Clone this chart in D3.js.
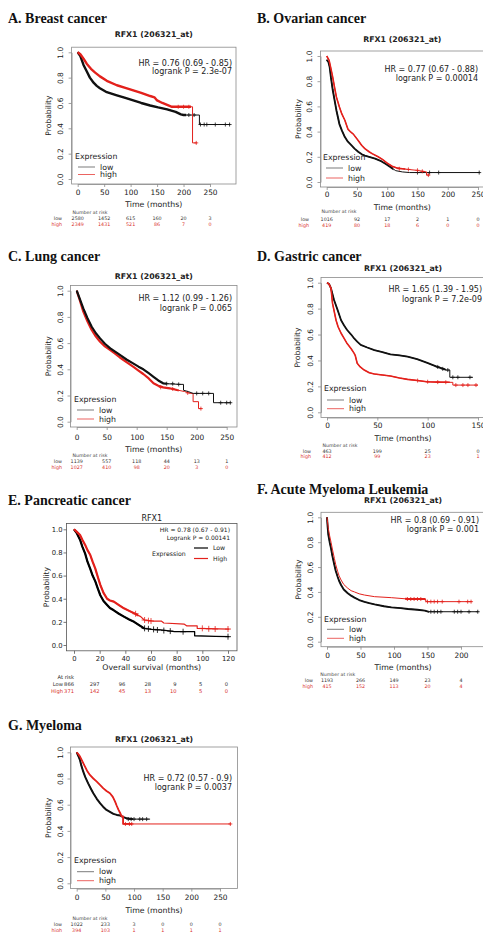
<!DOCTYPE html>
<html>
<head>
<meta charset="utf-8">
<script src="https://cdn.jsdelivr.net/npm/d3@7"></script>
<style>
body { margin: 0; background: #fff; }
text { font-family: "DejaVu Sans", sans-serif; fill: #222; }
.ptitle { font-family: "Liberation Serif", "Times New Roman", serif; font-weight: bold; font-size: 14px; fill: #111; }
</style>
</head>
<body>
<script>
var red = "#e3211c";

// ---- survival curves: [months, probability]
var breastLow = [[0,1],[5,0.97],[11,0.9],[17,0.85],[23,0.8],[30,0.76],[36,0.735],[42,0.716],[55,0.685],[74,0.66],[90,0.64],[105,0.62],[120,0.6],[137,0.58],[152,0.565],[169,0.55],[185,0.53],[195,0.51],[200,0.505],[230,0.505],[230,0.43],[288,0.43]];
var breastHigh = [[0,1],[5,0.985],[11,0.95],[17,0.91],[25,0.87],[33,0.84],[42,0.81],[55,0.775],[74,0.74],[90,0.72],[105,0.7],[120,0.68],[137,0.655],[145,0.645],[150,0.62],[160,0.6],[169,0.585],[178,0.57],[217,0.57],[217,0.285],[225,0.285]];
var breastLowCens = [[210,0.505],[220,0.505],[232,0.43],[239,0.43],[244,0.43],[260,0.43],[279,0.43],[287,0.43]];
var breastHighCens = [[190,0.57],[200,0.57],[210,0.57],[224,0.285]];
var breastLowDense = [0, 205], breastHighDense = [0, 214];

var ovarianLow = [[0,0.97],[3,0.95],[5,0.91],[7,0.83],[10,0.73],[13,0.65],[16,0.57],[21,0.46],[25,0.41],[30,0.357],[35,0.32],[41,0.29],[46,0.265],[52,0.24],[58,0.22],[63,0.21],[70,0.2],[80,0.185],[90,0.165],[97,0.145],[105,0.12],[114,0.09],[125,0.08],[137,0.075],[253,0.075]];
var ovarianHigh = [[0,1],[4,0.965],[7,0.9],[10,0.83],[13,0.75],[16,0.675],[21,0.595],[25,0.54],[30,0.49],[35,0.42],[40,0.395],[44,0.38],[52,0.33],[58,0.29],[63,0.265],[70,0.24],[75,0.225],[85,0.2],[92,0.18],[100,0.15],[108,0.125],[117,0.11],[125,0.105],[148,0.093],[165,0.08],[165,0.055],[170,0.055]];
var ovarianLowCens = [[150,0.075],[170,0.075],[185,0.075],[252,0.075]];
var ovarianHighCens = [[120,0.105],[135,0.1],[150,0.093],[158,0.085],[168,0.055]];
var ovarianLowDense = [0, 110], ovarianHighDense = [0, 130];

var lungLow = [[0,1],[5,0.94],[11,0.865],[18,0.79],[25,0.725],[32,0.675],[39,0.636],[47,0.595],[56,0.56],[64,0.535],[72,0.51],[83,0.475],[94,0.445],[103,0.42],[111,0.4],[120,0.37],[128,0.343],[136,0.315],[144,0.293],[150,0.29],[172,0.285],[178,0.285],[178,0.24],[186,0.23],[194,0.216],[228,0.216],[228,0.145],[257,0.145]];
var lungHigh = [[0,1],[5,0.93],[11,0.84],[18,0.765],[25,0.7],[32,0.65],[39,0.61],[47,0.575],[56,0.547],[64,0.52],[72,0.49],[83,0.455],[94,0.42],[103,0.39],[111,0.364],[120,0.33],[128,0.293],[136,0.275],[144,0.262],[155,0.255],[167,0.242],[180,0.23],[189,0.216],[194,0.216],[194,0.153],[203,0.153],[203,0.1],[208,0.1]];
var lungLowCens = [[150,0.29],[160,0.29],[170,0.285],[200,0.216],[210,0.216],[220,0.216],[240,0.145],[250,0.145],[256,0.145]];
var lungHighCens = [[140,0.262],[160,0.25],[185,0.22],[207,0.1]];
var lungLowDense = [0, 150], lungHighDense = [0, 170];

var gastricLow = [[0,1],[2,0.99],[4,0.956],[7,0.866],[10.5,0.79],[14,0.71],[17,0.67],[20,0.635],[24,0.6],[27,0.57],[30,0.545],[33.5,0.52],[40,0.5],[47,0.48],[55,0.465],[63,0.447],[72,0.44],[80,0.43],[89.5,0.41],[99,0.383],[109,0.352],[119,0.326],[122,0.326],[122,0.27],[145,0.27]];
var gastricHigh = [[0,1],[2,0.99],[4,0.956],[5.5,0.84],[9,0.71],[11,0.66],[14,0.61],[17,0.57],[20,0.53],[24,0.49],[27,0.455],[28,0.44],[30,0.378],[33,0.35],[37,0.326],[42,0.305],[47,0.296],[55,0.288],[63,0.28],[72,0.265],[80,0.254],[90,0.245],[99,0.236],[110,0.233],[125,0.231],[125,0.21],[150,0.21]];
var gastricLowCens = [[110,0.35],[115,0.335],[120,0.326],[125,0.27],[130,0.27],[142,0.27]];
var gastricHighCens = [[90,0.245],[100,0.236],[110,0.233],[118,0.232],[128,0.21],[135,0.21],[140,0.21],[148,0.21]];
var gastricLowDense = [0, 118], gastricHighDense = [0, 122];

var pancLow = [[0,1],[2,0.97],[4.7,0.91],[6.5,0.85],[8.7,0.79],[10.5,0.72],[12.6,0.66],[14.5,0.6],[16.6,0.55],[18.5,0.49],[20.5,0.43],[23,0.38],[25.8,0.346],[28,0.32],[31,0.3],[35,0.27],[38.9,0.245],[43,0.22],[46.8,0.2],[51,0.17],[54.7,0.144],[60,0.135],[67.9,0.13],[78.4,0.115],[94,0.115],[94,0.08],[110,0.075],[121,0.072]];
var pancHigh = [[0,1],[2,0.98],[4.7,0.95],[6.5,0.91],[8.7,0.865],[10.5,0.82],[12.6,0.78],[14.5,0.72],[16.6,0.66],[18.5,0.59],[20.5,0.52],[23,0.45],[25.8,0.4],[28,0.385],[31,0.375],[35,0.345],[38.9,0.317],[43,0.295],[46.8,0.274],[52,0.245],[54.7,0.216],[62,0.207],[68,0.207],[70,0.19],[86,0.18],[88,0.165],[96,0.165],[96,0.144],[121,0.138]];
var pancLowCens = [[55,0.144],[58,0.14],[62,0.135],[65,0.13],[70,0.125],[75,0.12],[85,0.115],[120,0.072]];
var pancHighCens = [[48,0.27],[55,0.216],[58,0.21],[60,0.207],[100,0.144],[105,0.14],[110,0.138],[120,0.138]];
var pancLowDense = [0, 55], pancHighDense = [0, 50];

var amlLow = [[0,1],[1,0.92],[2,0.86],[4,0.8],[6,0.75],[8,0.69],[11,0.617],[13,0.57],[16,0.52],[18,0.49],[21,0.456],[25,0.42],[31,0.39],[36,0.37],[41,0.354],[48,0.335],[56,0.32],[63,0.31],[71,0.3],[85,0.285],[96,0.276],[110,0.27],[121,0.263],[135,0.257],[146,0.25],[151,0.241],[226,0.241]];
var amlHigh = [[0,1],[2,0.91],[4,0.85],[6,0.8],[8,0.745],[11,0.67],[13,0.62],[16,0.563],[18,0.53],[21,0.496],[25,0.46],[31,0.43],[36,0.41],[41,0.4],[48,0.385],[56,0.375],[71,0.362],[96,0.354],[121,0.343],[147,0.343],[148,0.322],[216,0.322]];
var amlLowCens = [[155,0.241],[160,0.241],[165,0.241],[170,0.241],[190,0.241],[195,0.241],[200,0.241],[212,0.241],[225,0.241]];
var amlHighCens = [[120,0.343],[125,0.343],[130,0.343],[135,0.343],[140,0.343],[150,0.322],[155,0.322],[160,0.322],[165,0.322],[172,0.322],[197,0.322],[210,0.322],[215,0.322]];
var amlLowDense = [0, 152], amlHighDense = [118, 147];

var myelLow = [[0,1],[3,0.97],[5.8,0.94],[8,0.9],[11.6,0.85],[15,0.81],[20,0.763],[25,0.72],[29,0.687],[35,0.645],[41,0.61],[46,0.585],[52,0.56],[58,0.545],[64,0.53],[70,0.522],[76,0.517],[82,0.505],[87,0.496],[95,0.49],[128,0.49]];
var myelHigh = [[0,1],[3,0.985],[5.8,0.967],[10,0.93],[14.5,0.89],[18,0.86],[23,0.827],[29,0.8],[35,0.776],[41,0.75],[46.5,0.725],[52,0.705],[58,0.687],[63,0.66],[67,0.623],[70,0.59],[73,0.56],[76,0.535],[78.5,0.51],[81,0.51],[81,0.453],[269,0.453]];
var myelLowCens = [[90,0.49],[95,0.49],[100,0.49],[110,0.49],[115,0.49],[122,0.49]];
var myelHighCens = [[85,0.453],[92,0.453],[96,0.453],[268,0.453]];
var myelLowDense = [0, 98], myelHighDense = [0, 97];

// ---- numbers at risk
var breastRiskLow = [2580,1452,615,160,20,3], breastRiskHigh = [2349,1431,521,86,7,0];
var ovarianRiskLow = [1016,92,17,2,1,0], ovarianRiskHigh = [419,80,18,6,0,0];
var lungRiskLow = [1139,557,118,44,13,1], lungRiskHigh = [1027,410,98,20,3,0];
var gastricRiskLow = [463,199,25,0], gastricRiskHigh = [412,99,23,1];
var pancRiskLow = [866,297,96,28,9,5,0], pancRiskHigh = [371,142,45,13,10,5,0];
var amlRiskLow = [1193,266,149,23,4], amlRiskHigh = [415,152,113,20,4];
var myelRiskLow = [1022,233,3,0,0,0], myelRiskHigh = [394,103,1,1,1,1];

// ---- ticks and labels
var ticks250 = [0,50,100,150,200,250];
var ticks200 = [0,50,100,150,200];
var ticks150 = [0,50,100,150];
var ticks120 = [0,20,40,60,80,100,120];
var probTicks = [0,0.2,0.4,0.6,0.8,1];

var breastStats = ["HR = 0.76 (0.69 - 0.85)", "logrank P = 2.3e-07"];
var ovarianStats = ["HR = 0.77 (0.67 - 0.88)", "logrank P = 0.00014"];
var lungStats = ["HR = 1.12 (0.99 - 1.26)", "logrank P = 0.065"];
var gastricStats = ["HR = 1.65 (1.39 - 1.95)", "logrank P = 7.2e-09"];
var pancStats = ["HR = 0.78 (0.67 - 0.91)", "Logrank P = 0.00141"];
var amlStats = ["HR = 0.8 (0.69 - 0.91)", "logrank P = 0.001"];
var myelStats = ["HR = 0.72 (0.57 - 0.9)", "logrank P = 0.0037"];

var svg = d3.select("body").append("svg").attr("width", 483).attr("height", 932);
var clipCount = 0;

function drawPanel(p) {
    var g = svg.append("g");
    var b = p.box; // left, right, top, bottom
    var x = d3.scaleLinear().domain([0, p.xTicks[p.xTicks.length - 1]]).range([p.x0, p.x1]);
    var y = d3.scaleLinear().domain([0, 1]).range([p.y0, p.y1]);
    var mpl = !!p.mpl;
    var cx = (b[0] + b[1]) / 2, cy = (b[2] + b[3]) / 2;
    var fs = mpl ? "6.2px" : "7.8px";

    g.append("text").attr("class", "ptitle").attr("x", p.tx).attr("y", p.ty).text(p.title);
    g.append("text").attr("x", cx).attr("y", p.subY).attr("dy", "0.35em").attr("text-anchor", "middle")
        .style("font-size", mpl ? "8px" : "7.8px").style("font-weight", mpl ? "normal" : "bold").text(p.sub);

    g.append("rect").attr("x", b[0]).attr("y", b[2]).attr("width", b[1] - b[0]).attr("height", b[3] - b[2])
        .attr("fill", "none").attr("stroke", mpl ? "#555" : "#8a8a8a").attr("stroke-width", 0.8);

    var xa = g.append("g").attr("transform", "translate(0," + b[3] + ")")
        .call(d3.axisBottom(x).tickValues(p.xTicks).tickSize(3).tickSizeOuter(0));
    xa.selectAll("text").attr("y", p.xLabY - b[3]).attr("dy", "0.35em").attr("fill", "#333")
        .style("font-size", mpl ? "6.8px" : "7.4px");

    var ya = g.append("g").attr("transform", "translate(" + b[0] + ",0)")
        .call(d3.axisLeft(y).tickValues(probTicks).tickFormat(d3.format(".1f")).tickSize(3).tickSizeOuter(0));
    if (mpl) {
        ya.selectAll("text").attr("x", p.yLabX - b[0]).attr("dy", "0.35em").attr("text-anchor", "end");
        xa.select(".domain").remove();
        ya.select(".domain").remove();
    } else {
        ya.selectAll("text").attr("transform", "rotate(-90)").attr("x", 0).attr("y", p.yLabX - b[0])
            .attr("dy", "0.35em").attr("text-anchor", "middle");
    }
    ya.selectAll("text").attr("fill", "#333").style("font-size", mpl ? "6.8px" : "7.4px");
    g.selectAll(".domain, .tick line").attr("stroke", mpl ? "#555" : "#8a8a8a").attr("stroke-width", 0.8);

    g.append("text").attr("transform", "translate(" + p.probX + "," + cy + ") rotate(-90)")
        .attr("dy", "0.35em").attr("text-anchor", "middle").style("font-size", "7.6px").text("Probability");
    g.append("text").attr("x", p.timeX || cx).attr("y", p.timeY).attr("dy", "0.35em").attr("text-anchor", "middle")
        .style("font-size", "7.8px").text(p.xTitle || "Time (months)");

    var line = d3.line().x(function (d) { return x(d[0]); }).y(function (d) { return y(d[1]); });
    p.series.forEach(function (s) {
        g.append("path").datum(s.data).attr("d", line).attr("fill", "none")
            .attr("stroke", s.color).attr("stroke-width", s.w).attr("stroke-linejoin", "round");
        // stretch of the curve crowded with censor ticks looks thicker
        var id = "dense" + (clipCount++);
        g.append("clipPath").attr("id", id).append("rect")
            .attr("x", x(s.dense[0]) - 1).attr("width", x(s.dense[1]) - x(s.dense[0]) + 1)
            .attr("y", b[2] - 6).attr("height", b[3] - b[2] + 12);
        g.append("path").datum(s.data).attr("d", line).attr("fill", "none").attr("clip-path", "url(#" + id + ")")
            .attr("stroke", s.color).attr("stroke-width", s.dw).attr("stroke-linejoin", "round");
        var r = mpl ? 3 : 2;
        g.selectAll(null).data(s.cens).enter().append("path")
            .attr("d", function (d) {
                var px = x(d[0]), py = y(d[1]);
                return "M" + (px - r) + "," + py + "H" + (px + r) + "M" + px + "," + (py - r) + "V" + (py + r);
            })
            .attr("stroke", s.color).attr("stroke-width", 0.8);
    });

    p.stats.forEach(function (t, i) {
        g.append("text").attr("x", p.hrX).attr("y", p.hrY[i]).attr("dy", "0.35em").attr("text-anchor", "end")
            .style("font-size", mpl ? "6px" : "8px").text(t);
    });

    var risk = [p.riskLow, p.riskHigh];
    var riskY = [p.lowY, p.highY];
    var riskCol = ["#333", "#d9302c"];
    if (mpl) {
        // lifelines style legend and at-risk table
        g.append("text").attr("x", p.legX).attr("y", p.legY).attr("dy", "0.35em").style("font-size", fs).text("Expression");
        ["Low", "High"].forEach(function (lab, i) {
            var ly = i ? p.legHighY : p.legLowY;
            g.append("line").attr("x1", p.legX + 42).attr("x2", p.legX + 56).attr("y1", ly).attr("y2", ly)
                .attr("stroke", i ? red : "#000").attr("stroke-width", 1.2);
            g.append("text").attr("x", p.legX + 61).attr("y", ly).attr("dy", "0.35em").style("font-size", fs).text(lab);
        });
        g.append("text").attr("x", x(0)).attr("y", p.narY).attr("dy", "0.35em").attr("text-anchor", "end")
            .style("font-size", "5.2px").text("At risk");
        ["Low", "High"].forEach(function (lab, i) {
            g.append("text").attr("x", p.labX).attr("y", riskY[i]).attr("dy", "0.35em").attr("text-anchor", "end")
                .style("fill", riskCol[i]).style("font-size", "5.2px").text(lab);
            g.selectAll(null).data(risk[i]).enter().append("text")
                .attr("x", function (d, j) { return x(p.xTicks[j]); }).attr("y", riskY[i]).attr("dy", "0.35em")
                .attr("text-anchor", "end").style("fill", riskCol[i]).style("font-size", "5.2px")
                .text(function (d) { return d; });
        });
    } else {
        g.append("text").attr("x", p.legX).attr("y", p.legY).attr("dy", "0.35em").style("font-size", fs).text("Expression");
        ["low", "high"].forEach(function (lab, i) {
            var ly = i ? p.legHighY : p.legLowY;
            g.append("line").attr("x1", p.legX + 3).attr("x2", p.legX + 20).attr("y1", ly).attr("y2", ly)
                .attr("stroke", i ? red : "#444").attr("stroke-width", 0.7);
            g.append("text").attr("x", p.legX + 25).attr("y", ly).attr("dy", "0.35em").style("font-size", fs).text(lab);
        });
        g.append("text").attr("x", p.narX).attr("y", p.narY).attr("dy", "0.35em").attr("text-anchor", "middle")
            .style("font-size", "4.7px").style("fill", "#444").text("Number at risk");
        ["low", "high"].forEach(function (lab, i) {
            g.append("text").attr("x", p.labX).attr("y", riskY[i]).attr("dy", "0.35em").attr("text-anchor", "end")
                .style("fill", riskCol[i]).style("font-size", "4.8px").text(lab);
            g.selectAll(null).data(risk[i]).enter().append("text")
                .attr("x", function (d, j) { return x(p.xTicks[j]); }).attr("y", riskY[i]).attr("dy", "0.35em")
                .attr("text-anchor", "middle").style("fill", riskCol[i]).style("font-size", "4.8px")
                .text(function (d) { return d; });
        });
    }
}

drawPanel({
    title: "A. Breast cancer", tx: 8, ty: 22.5, sub: "RFX1 (206321_at)", subY: 34,
    box: [71.6, 236, 47.2, 184], x0: 77.7, x1: 210, y0: 179, y1: 52.3, xTicks: ticks250,
    stats: breastStats, hrX: 232, hrY: [63, 71.5], probX: 48, yLabX: 60, xLabY: 192.7, timeY: 204,
    series: [
        { data: breastLow, cens: breastLowCens, dense: breastLowDense, color: "#111", w: 1, dw: 2.4 },
        { data: breastHigh, cens: breastHighCens, dense: breastHighDense, color: red, w: 1, dw: 2.4 }
    ],
    riskLow: breastRiskLow, riskHigh: breastRiskHigh, narX: 90, narY: 212, lowY: 218, highY: 224, labX: 62,
    legX: 75, legY: 156, legLowY: 167, legHighY: 174.5
});

drawPanel({
    title: "B. Ovarian cancer", tx: 257, ty: 22.5, sub: "RFX1 (206321_at)", subY: 39,
    box: [320.5, 484, 51, 187], x0: 326.7, x1: 478, y0: 182, y1: 56, xTicks: ticks250,
    stats: ovarianStats, hrX: 478, hrY: [69, 78], probX: 298, yLabX: 309, xLabY: 194, timeY: 207,
    series: [
        { data: ovarianLow, cens: ovarianLowCens, dense: ovarianLowDense, color: "#111", w: 1, dw: 1.9 },
        { data: ovarianHigh, cens: ovarianHighCens, dense: ovarianHighDense, color: red, w: 1, dw: 1.6 }
    ],
    riskLow: ovarianRiskLow, riskHigh: ovarianRiskHigh, narX: 339, narY: 211, lowY: 219, highY: 225, labX: 309,
    legX: 323, legY: 157, legLowY: 168, legHighY: 178
});

drawPanel({
    title: "C. Lung cancer", tx: 8, ty: 261, sub: "RFX1 (206321_at)", subY: 276,
    box: [70.5, 237, 285.5, 427], x0: 76.7, x1: 226.7, y0: 421.7, y1: 290.7, xTicks: ticks250,
    stats: lungStats, hrX: 232, hrY: [298.3, 307.7], probX: 48, yLabX: 60, xLabY: 437, timeY: 449.3,
    series: [
        { data: lungHigh, cens: lungHighCens, dense: lungHighDense, color: red, w: 1, dw: 2.2 },
        { data: lungLow, cens: lungLowCens, dense: lungLowDense, color: "#111", w: 1, dw: 2.2 }
    ],
    riskLow: lungRiskLow, riskHigh: lungRiskHigh, narX: 90, narY: 455, lowY: 461, highY: 467, labX: 62,
    legX: 74, legY: 399, legLowY: 410, legHighY: 419
});

drawPanel({
    title: "D. Gastric cancer", tx: 257, ty: 261, sub: "RFX1 (206321_at)", subY: 268.3,
    box: [321, 485, 277.5, 417.5], x0: 327, x1: 478, y0: 412.3, y1: 282.7, xTicks: ticks150,
    stats: gastricStats, hrX: 482, hrY: [288.7, 299], probX: 297.7, yLabX: 310, xLabY: 425.7, timeY: 438,
    series: [
        { data: gastricLow, cens: gastricLowCens, dense: gastricLowDense, color: "#111", w: 1, dw: 1.8 },
        { data: gastricHigh, cens: gastricHighCens, dense: gastricHighDense, color: red, w: 1, dw: 1.6 }
    ],
    riskLow: gastricRiskLow, riskHigh: gastricRiskHigh, narX: 340, narY: 445, lowY: 451.5, highY: 456.7, labX: 311,
    legX: 324, legY: 388.3, legLowY: 400, legHighY: 408.7
});

drawPanel({
    mpl: true, title: "E. Pancreatic cancer", tx: 8, ty: 504.5, sub: "RFX1", subY: 518,
    box: [66.5, 237, 523.5, 650.8], x0: 74, x1: 228, y0: 645, y1: 529.3, xTicks: ticks120,
    stats: pancStats, hrX: 230, hrY: [530, 538], probX: 46.7, yLabX: 62.5, xLabY: 659, timeY: 667,
    xTitle: "Overall survival (months)",
    series: [
        { data: pancLow, cens: pancLowCens, dense: pancLowDense, color: "#000", w: 1.3, dw: 2.2 },
        { data: pancHigh, cens: pancHighCens, dense: pancHighDense, color: red, w: 1.2, dw: 2.2 }
    ],
    riskLow: pancRiskLow, riskHigh: pancRiskHigh, narY: 677, lowY: 684, highY: 690.7, labX: 63,
    legX: 152, legY: 553.5, legLowY: 548, legHighY: 558.5
});

drawPanel({
    title: "F. Acute Myeloma Leukemia", tx: 257, ty: 494, sub: "RFX1 (206321_at)", subY: 500.7,
    box: [321, 485, 512.3, 646.7], x0: 327, x1: 461, y0: 641.7, y1: 517.3, xTicks: ticks200,
    stats: amlStats, hrX: 479, hrY: [520, 529.3], probX: 298.3, yLabX: 310, xLabY: 655, timeY: 667,
    series: [
        { data: amlLow, cens: amlLowCens, dense: amlLowDense, color: "#111", w: 1, dw: 1.9 },
        { data: amlHigh, cens: amlHighCens, dense: amlHighDense, color: red, w: 1, dw: 1.9 }
    ],
    riskLow: amlRiskLow, riskHigh: amlRiskHigh, narX: 337.7, narY: 674, lowY: 680, highY: 686, labX: 313,
    legX: 324, legY: 619, legLowY: 629.3, legHighY: 638.3
});

drawPanel({
    title: "G. Myeloma", tx: 8, ty: 729.5, sub: "RFX1 (206321_at)", subY: 739,
    box: [70.5, 237.5, 747, 888.6], x0: 76.7, x1: 220, y0: 883.3, y1: 752.3, xTicks: ticks250,
    stats: myelStats, hrX: 232, hrY: [778.3, 786.7], probX: 48, yLabX: 60, xLabY: 897.3, timeY: 910.7,
    series: [
        { data: myelLow, cens: myelLowCens, dense: myelLowDense, color: "#111", w: 1, dw: 2 },
        { data: myelHigh, cens: myelHighCens, dense: myelHighDense, color: red, w: 1, dw: 1.8 }
    ],
    riskLow: myelRiskLow, riskHigh: myelRiskHigh, narX: 90, narY: 918.3, lowY: 924, highY: 930, labX: 62,
    legX: 74, legY: 860.7, legLowY: 871.7, legHighY: 880.7
});
</script>
</body>
</html>
